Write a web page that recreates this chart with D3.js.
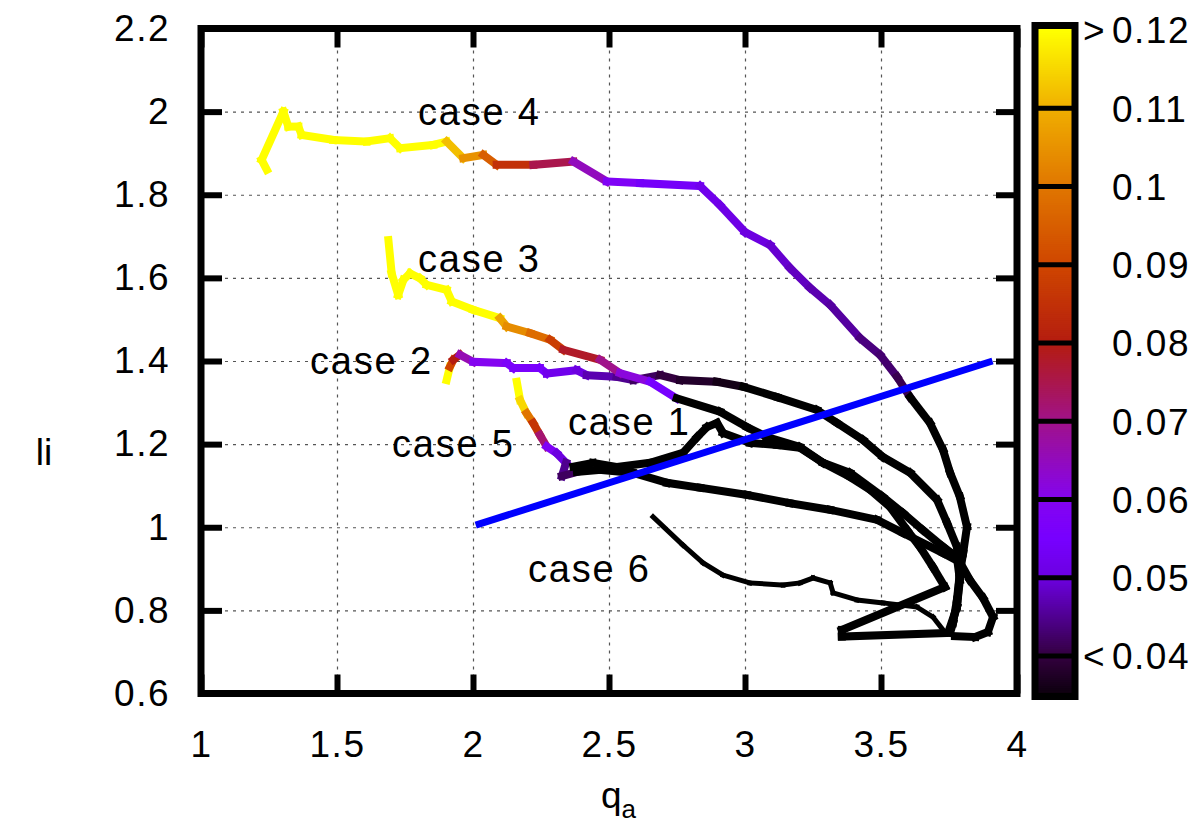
<!DOCTYPE html>
<html>
<head>
<meta charset="utf-8">
<script src="https://cdn.jsdelivr.net/npm/d3@7"></script>
<style>
	body { margin: 0; background: #fff; }
	svg text { font-family: "Liberation Sans", Arial, Helvetica, sans-serif; fill: #000; }
</style>
</head>
<body>
<div id="chart-area"></div>
<script>

// axis ticks
var xTicks = [1, 1.5, 2, 2.5, 3, 3.5, 4];
var yTicks = [0.6, 0.8, 1, 1.2, 1.4, 1.6, 1.8, 2, 2.2];
var cbTicks = [0.04, 0.05, 0.06, 0.07, 0.08, 0.09, 0.1, 0.11, 0.12];
var cbTickLabels = ["0.04", "0.05", "0.06", "0.07", "0.08", "0.09", "0.1", "0.11", "0.12"];

// colour map of the colour box
var paletteValues = [0.03, 0.035, 0.04, 0.05, 0.055, 0.06, 0.07, 0.08, 0.09, 0.1, 0.11, 0.12];
var paletteColors = ["#000000", "#0c000c", "#33003f", "#6c00e0", "#7700ff", "#8404f0", "#a0128a", "#b41c10", "#cf4600", "#e07600", "#f0ae00", "#ffff00"];

// each point: [q_a, li, colour value]
var case4 = [
	[1.242, 1.860, .125], [1.223, 1.884, .125], [1.303, 2.000, .125], [1.321, 1.964, .125],
	[1.358, 1.964, .125], [1.370, 1.944, .125], [1.486, 1.932, .125], [1.609, 1.928, .125],
	[1.695, 1.936, .125], [1.732, 1.912, .125], [1.854, 1.920, .122], [1.903, 1.928, .112],
	[1.964, 1.888, .105], [2.038, 1.896, .095], [2.087, 1.872, .085], [2.222, 1.872, .075],
	[2.369, 1.880, .065], [2.492, 1.832, .058], [2.614, 1.828, .054], [2.835, 1.821, .052],
	[2.908, 1.775, .051], [3.000, 1.710, .050], [3.092, 1.679, .049], [3.165, 1.624, .048],
	[3.239, 1.576, .047], [3.313, 1.535, .046], [3.423, 1.455, .044], [3.496, 1.415, .043],
	[3.559, 1.362, .041], [3.607, 1.313, .03], [3.680, 1.251, .03], [3.728, 1.186, .03],
	[3.754, 1.131, .03], [3.790, 1.073, .03], [3.816, 1.001, .03], [3.802, 0.938, .03],
	[3.790, 0.890, .03], [3.779, 0.825, .03], [3.765, 0.770, .03], [3.754, 0.746, .03]
];
var case3 = [
	[1.689, 1.691, .125], [1.701, 1.611, .125], [1.725, 1.559, .125], [1.744, 1.595, .125],
	[1.768, 1.611, .125], [1.805, 1.599, .125], [1.830, 1.583, .125], [1.903, 1.571, .125],
	[1.922, 1.543, .125], [2.001, 1.523, .125], [2.099, 1.503, .108], [2.124, 1.483, .104],
	[2.210, 1.467, .098], [2.283, 1.451, .088], [2.332, 1.427, .078], [2.467, 1.403, .07],
	[2.540, 1.371, .062], [2.651, 1.350, .055], [2.749, 1.310, .03], [2.908, 1.278, .03],
	[3.007, 1.241, .03], [3.081, 1.217, .03], [3.202, 1.193, .03], [3.287, 1.155, .03],
	[3.386, 1.131, .03], [3.507, 1.073, .03], [3.581, 1.034, .03], [3.654, 0.993, .03],
	[3.728, 0.953, .03], [3.779, 0.928, .03], [3.790, 0.873, .03], [3.779, 0.808, .03],
	[3.754, 0.760, .03]
];
var case2 = [
	[1.903, 1.354, .125], [1.915, 1.386, .09], [1.928, 1.403, .08], [1.952, 1.415, .066],
	[2.001, 1.398, .06], [2.124, 1.395, .057], [2.148, 1.383, .056], [2.246, 1.383, .055],
	[2.271, 1.370, .052], [2.381, 1.378, .05], [2.418, 1.366, .047], [2.528, 1.362, .045],
	[2.589, 1.354, .042], [2.688, 1.366, .04], [2.761, 1.354, .038], [2.896, 1.350, .036],
	[2.994, 1.338, .03], [3.118, 1.313, .03], [3.265, 1.282, .03], [3.338, 1.251, .03],
	[3.434, 1.210, .03], [3.507, 1.169, .03], [3.607, 1.131, .03], [3.706, 1.066, .03],
	[3.743, 1.010, .03], [3.779, 0.953, .03], [3.790, 0.890, .03], [3.779, 0.808, .03],
	[3.754, 0.753, .03]
];
var case1 = [
	[2.369, 1.146, .03], [2.441, 1.155, .03], [2.529, 1.145, .03], [2.651, 1.155, .03],
	[2.772, 1.179, .03], [2.824, 1.217, .03], [2.860, 1.241, .03], [2.897, 1.251, .03],
	[2.919, 1.227, .03], [3.018, 1.203, .03], [3.118, 1.198, .03], [3.202, 1.191, .03],
	[3.287, 1.155, .03], [3.386, 1.121, .03], [3.460, 1.090, .03], [3.533, 1.049, .03],
	[3.596, 0.993, .03], [3.643, 0.953, .03], [3.691, 0.904, .03], [3.735, 0.856, .03],
	[3.356, 0.753, .03], [3.356, 0.737, .03], [3.754, 0.746, .03]
];
var case5 = [
	[2.161, 1.350, .125], [2.173, 1.306, .115], [2.197, 1.274, .1], [2.221, 1.251, .086],
	[2.246, 1.222, .072], [2.271, 1.194, .058], [2.308, 1.178, .05], [2.342, 1.155, .045],
	[2.327, 1.123, .042], [2.382, 1.133, .03], [2.467, 1.138, .03], [2.588, 1.131, .03],
	[2.713, 1.107, .03], [2.835, 1.095, .03], [3.007, 1.078, .03], [3.165, 1.058, .03],
	[3.313, 1.042, .03], [3.485, 1.018, .03], [3.581, 0.986, .03], [3.728, 0.938, .03],
	[3.790, 0.916, .03], [3.827, 0.873, .03], [3.875, 0.830, .03], [3.912, 0.784, .03],
	[3.893, 0.748, .03], [3.846, 0.736, .03], [3.772, 0.738, .03]
];
var case6 = [
	[2.662, 1.025, .03], [2.772, 0.957, .03], [2.846, 0.914, .03], [2.919, 0.885, .03],
	[3.018, 0.866, .03], [3.140, 0.861, .03], [3.202, 0.866, .03], [3.250, 0.878, .03],
	[3.313, 0.866, .03], [3.324, 0.842, .03], [3.412, 0.825, .03], [3.507, 0.818, .03],
	[3.632, 0.808, .03], [3.691, 0.784, .03], [3.728, 0.753, .03]
];

// straight reference line
var refLineQ = [2.01, 3.91];
var refLineLi = [1.005, 1.40];

var caseNames = ["case 4", "case 3", "case 2", "case 5", "case 1", "case 6"];
var caseLabelQ = [1.798, 1.798, 1.401, 1.702, 2.349, 2.202];
var caseLabelLi = [1.968, 1.614, 1.369, 1.169, 1.222, 0.868];


LiChart = function(_parentElement, _curves) {
	this.parentElement = _parentElement;
	this.curves = _curves;
	this.initVis();
}

LiChart.prototype.initVis = function() {
	var vis = this;

	vis.margin = { top: 28.5, right: 181, bottom: 129.5, left: 201 };
	vis.width = 1198 - vis.margin.left - vis.margin.right;
	vis.height = 823 - vis.margin.top - vis.margin.bottom;

	vis.svg = d3.select("#" + vis.parentElement).append("svg")
		.attr("width", 1198)
		.attr("height", 823)
		.append("g")
		.attr("transform", "translate(" + vis.margin.left + "," + vis.margin.top + ")");

	vis.x = d3.scaleLinear().domain([1, 4]).range([0, vis.width]);
	vis.y = d3.scaleLinear().domain([0.6, 2.2]).range([vis.height, 0]);
	vis.cbY = d3.scaleLinear().domain([0.0352, 0.1202]).range([vis.height, 0]);
	vis.palette = d3.scaleLinear().domain(paletteValues).range(paletteColors).clamp(true);

	vis.fmt = d => String(+d.toFixed(2));

	// grid
	vis.svg.append("g")
		.attr("class", "grid")
		.call(d3.axisLeft(vis.y).tickValues(yTicks.slice(1, -1)).tickSize(-vis.width).tickFormat(""))
		.call(g => g.select(".domain").remove());
	vis.svg.append("g")
		.attr("class", "grid")
		.attr("transform", "translate(0," + vis.height + ")")
		.call(d3.axisBottom(vis.x).tickValues(xTicks.slice(1, -1)).tickSize(-vis.height).tickFormat(""))
		.call(g => g.select(".domain").remove());
	vis.svg.selectAll(".grid line")
		.attr("stroke", "#555")
		.attr("stroke-width", 1.2)
		.attr("stroke-dasharray", "3,5");

	vis.wrangleData();
}

LiChart.prototype.wrangleData = function() {
	var vis = this;

	// split every curve into coloured segments
	vis.segments = [];
	vis.curves.forEach(curve => {
		for (var i = 0; i < curve.points.length - 1; i++) {
			vis.segments.push({
				a: curve.points[i],
				b: curve.points[i + 1],
				w: curve.width
			});
		}
	});

	vis.updateVis();
}

LiChart.prototype.updateVis = function() {
	var vis = this;

	vis.svg.append("g").selectAll("line")
		.data(vis.segments)
		.enter().append("line")
		.attr("x1", d => vis.x(d.a[0]))
		.attr("y1", d => vis.y(d.a[1]))
		.attr("x2", d => vis.x(d.b[0]))
		.attr("y2", d => vis.y(d.b[1]))
		.attr("stroke", d => vis.palette(d.a[2]))
		.attr("stroke-width", d => d.w)
		.attr("stroke-linecap", "square");

	vis.svg.append("line")
		.attr("x1", vis.x(refLineQ[0]))
		.attr("y1", vis.y(refLineLi[0]))
		.attr("x2", vis.x(refLineQ[1]))
		.attr("y2", vis.y(refLineLi[1]))
		.attr("stroke", "#0000ff")
		.attr("stroke-width", 7);

	vis.svg.append("g").selectAll("text")
		.data(caseNames)
		.enter().append("text")
		.attr("x", (d, i) => vis.x(caseLabelQ[i]))
		.attr("y", (d, i) => vis.y(caseLabelLi[i]))
		.attr("font-size", 38)
		.attr("letter-spacing", 1.8)
		.text(d => d);

	// frame and axes
	vis.svg.append("rect")
		.attr("width", vis.width)
		.attr("height", vis.height)
		.attr("fill", "none")
		.attr("stroke", "#000")
		.attr("stroke-width", 7);

	var yAxisL = d3.axisLeft(vis.y).tickValues(yTicks).tickSize(-21).tickPadding(31).tickFormat(vis.fmt);
	var yAxisR = d3.axisRight(vis.y).tickValues(yTicks).tickSize(-21).tickFormat("");
	var xAxisB = d3.axisBottom(vis.x).tickValues(xTicks).tickSize(-19).tickPadding(37).tickFormat(vis.fmt);
	var xAxisT = d3.axisTop(vis.x).tickValues(xTicks).tickSize(-19).tickFormat("");

	vis.svg.append("g").attr("class", "axis").call(yAxisL);
	vis.svg.append("g").attr("class", "axis").attr("transform", "translate(" + vis.width + ",0)").call(yAxisR);
	vis.svg.append("g").attr("class", "axis").attr("transform", "translate(0," + vis.height + ")").call(xAxisB);
	vis.svg.append("g").attr("class", "axis").call(xAxisT);

	vis.svg.selectAll(".axis .domain").remove();
	vis.svg.selectAll(".axis line").attr("stroke", "#000").attr("stroke-width", 6);
	vis.svg.selectAll(".axis text")
		.attr("font-size", 37)
		.attr("letter-spacing", 1.5)
		.attr("fill", "#000");

	vis.svg.append("text")
		.attr("x", -157)
		.attr("y", 436)
		.attr("text-anchor", "middle")
		.attr("font-size", 37)
		.text("li");

	var xl = vis.svg.append("text")
		.attr("x", vis.x(2.5) - 8)
		.attr("y", 779)
		.attr("font-size", 37);
	xl.append("tspan").text("q");
	xl.append("tspan").attr("font-size", 26).attr("dy", 10).text("a");

	// colour box
	var cb = vis.svg.append("g").attr("transform", "translate(" + (1037 - vis.margin.left) + ",0)");
	var cbW = 36;
	var steps = d3.range(0, 340).map(i => 0.0352 + i * 0.00025);
	cb.selectAll(".slice")
		.data(steps)
		.enter().append("rect")
		.attr("class", "slice")
		.attr("x", 0)
		.attr("width", cbW)
		.attr("y", d => vis.cbY(d + 0.00025) - 0.5)
		.attr("height", d => vis.cbY(d) - vis.cbY(d + 0.00025) + 1)
		.attr("fill", d => vis.palette(d + 0.000125));

	cb.selectAll(".divider")
		.data(cbTicks.slice(0, -1))
		.enter().append("line")
		.attr("class", "divider")
		.attr("x1", 0)
		.attr("x2", cbW)
		.attr("y1", d => vis.cbY(d))
		.attr("y2", d => vis.cbY(d))
		.attr("stroke", "#000")
		.attr("stroke-width", 5);

	cb.append("rect")
		.attr("x", -2)
		.attr("y", -3)
		.attr("width", cbW + 4)
		.attr("height", vis.height + 6)
		.attr("fill", "none")
		.attr("stroke", "#000")
		.attr("stroke-width", 7);

	cb.selectAll(".cblabel")
		.data(cbTickLabels)
		.enter().append("text")
		.attr("class", "cblabel")
		.attr("x", 75)
		.attr("y", (d, i) => vis.cbY(cbTicks[i]))
		.attr("dy", "0.36em")
		.attr("font-size", 37)
		.attr("letter-spacing", 1.5)
		.text(d => d);

	cb.append("text").attr("x", 46).attr("y", vis.cbY(0.12)).attr("dy", "0.36em").attr("font-size", 37).text(">");
	cb.append("text").attr("x", 46).attr("y", vis.cbY(0.04)).attr("dy", "0.36em").attr("font-size", 37).text("<");
}

var chart = new LiChart("chart-area", [
	{ points: case6, width: 5 },
	{ points: case5, width: 8 },
	{ points: case1, width: 8 },
	{ points: case2, width: 8 },
	{ points: case3, width: 8 },
	{ points: case4, width: 8 }
]);

</script>
</body>
</html>
